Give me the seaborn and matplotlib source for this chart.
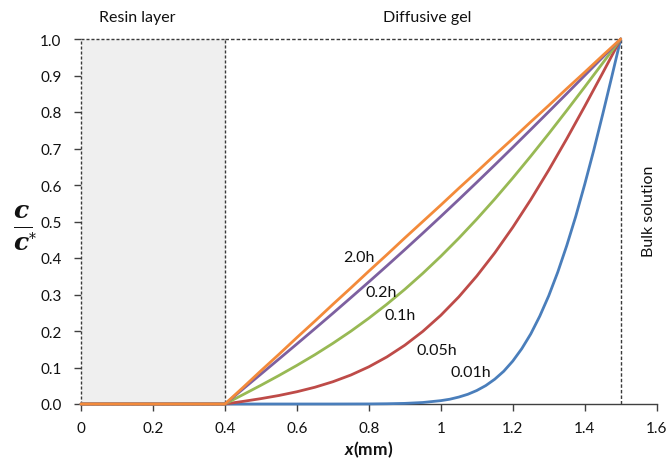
import numpy as np
import pandas as pd
import matplotlib
matplotlib.use("Agg")
import matplotlib.pyplot as plt
from matplotlib.patches import Rectangle
import seaborn as sns

# Concentration profiles c/c* across the resin layer and diffusive gel
time_labels = ["0.01h", "0.05h", "0.1h", "0.2h", "2.0h"]
line_colors = ["#4A7EBB", "#BE4B48", "#98B954", "#7D60A0", "#F38A3A"]

# shared x grid (mm) for the slower-changing profiles
x_gel = [0.0, 0.40, 0.45, 0.50, 0.55, 0.60, 0.65, 0.70, 0.75, 0.80, 0.85, 0.90,
         0.95, 1.00, 1.05, 1.10, 1.15, 1.20, 1.25, 1.30, 1.35, 1.40, 1.45, 1.50]

c_005h = [0.0, 0.0, 0.0071, 0.0147, 0.0233, 0.0336, 0.0459, 0.0610, 0.0794,
          0.1019, 0.1289, 0.1611, 0.199, 0.2430, 0.2935, 0.3506, 0.4141,
          0.4841, 0.5599, 0.6410, 0.7266, 0.8157, 0.9072, 1.0]
c_01h = [0.0, 0.0, 0.0255, 0.0513, 0.0780, 0.1058, 0.1350, 0.1662, 0.1994,
         0.2351, 0.2733, 0.3142, 0.358, 0.4047, 0.4542, 0.5066, 0.5616,
         0.6192, 0.6790, 0.7407, 0.8041, 0.8687, 0.9341, 1.0]
c_02h = [0.0, 0.0, 0.0409, 0.0819, 0.1231, 0.1645, 0.2063, 0.2485, 0.2913,
         0.3345, 0.3784, 0.4229, 0.468, 0.5138, 0.5602, 0.6073, 0.6549,
         0.7031, 0.7518, 0.8009, 0.8503, 0.9001, 0.95, 1.0]
c_20h = [0.0, 0.0, 0.045, 0.091, 0.136, 0.182, 0.227, 0.273, 0.318, 0.364,
         0.409, 0.455, 0.5, 0.545, 0.591, 0.636, 0.682, 0.727, 0.773, 0.818,
         0.864, 0.909, 0.955, 1.0]

# finer grid for the steep early profile
x_001h = [0.0, 0.40, 0.50, 0.60, 0.70, 0.80, 0.85, 0.90, 0.95, 1.00, 1.025,
          1.05, 1.075, 1.10, 1.125, 1.15, 1.175, 1.20, 1.225, 1.25, 1.275,
          1.30, 1.325, 1.35, 1.375, 1.40, 1.425, 1.45, 1.475, 1.50]
c_001h = [0.0, 0.0, 0.0, 0.0, 0.0, 0.0002, 0.0007, 0.0017, 0.0041, 0.0092,
          0.0131, 0.019, 0.0266, 0.037, 0.0505, 0.068, 0.0898, 0.1176, 0.1515,
          0.192, 0.2406, 0.2966, 0.3612, 0.434, 0.514, 0.602, 0.695, 0.794,
          0.896, 1.0]

x_ticks = [0, 0.2, 0.4, 0.6, 0.8, 1.0, 1.2, 1.4, 1.6]
x_tick_labels = ["0", "0.2", "0.4", "0.6", "0.8", "1", "1.2", "1.4", "1.6"]
y_ticks = [0.0, 0.1, 0.2, 0.3, 0.4, 0.5, 0.6, 0.7, 0.8, 0.9, 1.0]

resin_end = 0.4   # resin / gel interface (mm)
gel_end = 1.5     # gel / bulk solution interface (mm)

frames = [pd.DataFrame({"x": x_001h, "c": c_001h, "time": time_labels[0]})]
for lab, vals in zip(time_labels[1:], [c_005h, c_01h, c_02h, c_20h]):
    frames.append(pd.DataFrame({"x": x_gel, "c": vals, "time": lab}))
df = pd.concat(frames, ignore_index=True)

sns.set_theme(style="white")
plt.rcParams["font.family"] = ["Lato", "DejaVu Sans"]
plt.rcParams["mathtext.fontset"] = "custom"
plt.rcParams["mathtext.bf"] = "Lato:bold:italic"

W, H = 670, 464
fig = plt.figure(figsize=(W / 100, H / 100), dpi=100)
ax = fig.add_axes([81 / W, 59 / H, 575.7 / W, 365 / H])

axis_col = "#404040"
dot_col = "#3a3a3a"
text_col = "#111111"

# resin layer block and dotted zone boundaries
ax.add_patch(Rectangle((0, 0), resin_end, 1.0, facecolor="#EFEFEF",
                       edgecolor=dot_col, linewidth=1.0,
                       linestyle=(0, (2.2, 1.4)), zorder=1, clip_on=False))
ax.plot([resin_end, gel_end], [1.0, 1.0], color=dot_col, lw=1.0,
        ls=(0, (2.5, 1.5)), zorder=1, clip_on=False)
ax.plot([gel_end, gel_end], [0.0, 1.0], color=dot_col, lw=1.0,
        ls=(0, (2.5, 1.5)), zorder=1, clip_on=False)

sns.lineplot(data=df, x="x", y="c", hue="time", hue_order=time_labels,
             palette=line_colors, sort=False, estimator=None, legend=False,
             linewidth=2.0, ax=ax, clip_on=False, zorder=3,
             solid_capstyle="round", solid_joinstyle="round")

ax.set_xlim(0, 1.6)
ax.set_ylim(0, 1.0)
ax.set_xticks(x_ticks)
ax.set_xticklabels(x_tick_labels)
ax.set_yticks(y_ticks)
ax.set_yticklabels([f"{v:.1f}" for v in y_ticks])
ax.tick_params(axis="both", which="major", direction="out", length=5,
               width=1.0, color=axis_col, labelsize=11, labelcolor=text_col,
               bottom=True, left=True)
ax.tick_params(axis="x", pad=7)
ax.tick_params(axis="y", pad=9)

for side in ["top", "right", "left"]:
    ax.spines[side].set_visible(False)
ax.spines["bottom"].set_color(axis_col)
ax.spines["bottom"].set_linewidth(1.0)
ax.spines["bottom"].set_zorder(2)

ax.set_xlabel(r"$\mathbf{x}$(mm)", fontsize=12.5, fontweight="bold",
              color=text_col, labelpad=3)
ax.set_ylabel("")

# c / c* written as a stacked fraction beside the y axis
frac_font = dict(family="DejaVu Serif", fontweight="bold", style="italic",
                 fontsize=18, color=text_col, ha="center", va="baseline")
fig.text(21 / W, 1 - 218.5 / H, "c", **frac_font)
fig.text(21 / W, 1 - 250.5 / H, "c", **frac_font)
fig.text(32.5 / W, 1 - 243 / H, "*", family="DejaVu Serif", fontsize=10,
         color=text_col, ha="center", va="baseline")
fig.add_artist(Rectangle((14 / W, 1 - 229 / H), 19 / W, 1.4 / H,
                         facecolor=text_col, edgecolor="none",
                         transform=fig.transFigure))

# zone headings
txt = dict(fontsize=11.5, color=text_col, ha="center", va="center")
ax.text(0.156, 1.059, "Resin layer", clip_on=False, **txt)
ax.text(0.961, 1.059, "Diffusive gel", clip_on=False, **txt)
ax.text(1.578, 0.53, "Bulk solution", rotation=90, clip_on=False, **txt)

# time annotations beside each profile
label_pos = {"2.0h": (0.771, 0.404), "0.2h": (0.833, 0.306),
             "0.1h": (0.887, 0.244), "0.05h": (0.988, 0.149),
             "0.01h": (1.082, 0.087)}
for lab in time_labels:
    px, py = label_pos[lab]
    ax.text(px, py, lab, fontsize=11.5, color=text_col, ha="center",
            va="center", zorder=4)

fig.savefig("out.png", dpi=100)
